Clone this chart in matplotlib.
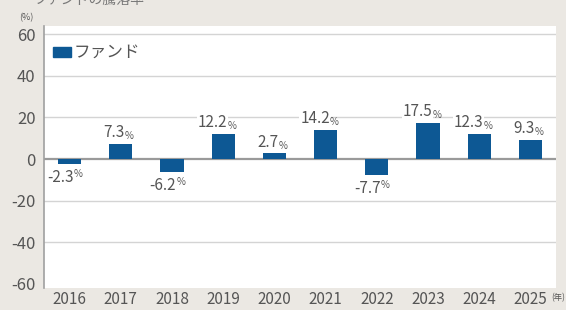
import numpy as np
import matplotlib.pyplot as plt
from matplotlib.patches import Rectangle

plt.rcParams['font.family'] = ['Noto Sans CJK JP', 'DejaVu Sans']

years = ['2016', '2017', '2018', '2019', '2020', '2021', '2022', '2023', '2024', '2025']
returns = [-2.3, 7.3, -6.2, 12.2, 2.7, 14.2, -7.7, 17.5, 12.3, 9.3]
yticks = [-60, -40, -20, 0, 20, 40, 60]

bg = '#ebe8e3'
bar_color = '#0d5894'
txt = '#555555'

fig = plt.figure(figsize=(5.66, 3.10), dpi=100, facecolor=bg)
ax = fig.add_axes([44 / 566, 22 / 310, 512 / 566, 262 / 310])
ax.set_facecolor('white')

x = np.arange(len(years))
ax.bar(x, returns, width=0.45, color=bar_color, zorder=3)

for yv in yticks:
    if yv == 0:
        ax.axhline(0, color='#9a9a9a', lw=1.6, zorder=2)
    elif yv > -60:
        ax.axhline(yv, color='#d4d4d4', lw=1.0, zorder=1)

ax.set_xlim(-0.5, 9.5)
ax.set_ylim(-62, 64)
ax.set_yticks(yticks)
ax.set_yticklabels([str(v) for v in yticks], fontsize=12, color=txt)
ax.set_xticks(x)
ax.set_xticklabels(years, fontsize=11, color=txt)
ax.tick_params(length=0, pad=2)
ax.tick_params(axis='y', pad=6)
for s in ['top', 'right', 'bottom']:
    ax.spines[s].set_visible(False)
ax.spines['left'].set_color('#a0a0a0')
ax.spines['left'].set_linewidth(1.2)

for xi, v in zip(x, returns):
    if v >= 0:
        yy, va = v + 1.2, 'bottom'
    else:
        yy, va = v - 2.5, 'top'
    ax.annotate(f'{v:.1f}', (xi, yy), xytext=(3, 0), textcoords='offset points',
                ha='right', va=va, fontsize=11, color=txt, zorder=4,
                bbox=dict(fc='white', ec='none', pad=0.5))
    ax.annotate('%', (xi, yy), xytext=(3, 0), textcoords='offset points',
                ha='left', va=va, fontsize=7, color=txt, zorder=4)

# legend
ax.add_patch(Rectangle((53 / 566, 1 - 57 / 310), 18 / 566, 10 / 310,
                       transform=fig.transFigure, color=bar_color, zorder=5))
fig.text(74 / 566, 1 - 52 / 310, 'ファンド', fontsize=12, color=txt, ha='left', va='center')

fig.text(26 / 566, 1 - 18 / 310, '(%)', fontsize=6.5, color=txt, ha='center', va='center')
fig.text(551 / 566, 1 - 298 / 310, '(年)', fontsize=6, color=txt, ha='left', va='center')
fig.text(0.06, 1.0, 'ファンドの騰落率', fontsize=10, color='#777777', ha='left', va='center')

fig.savefig('out.png', dpi=100, facecolor=bg)
